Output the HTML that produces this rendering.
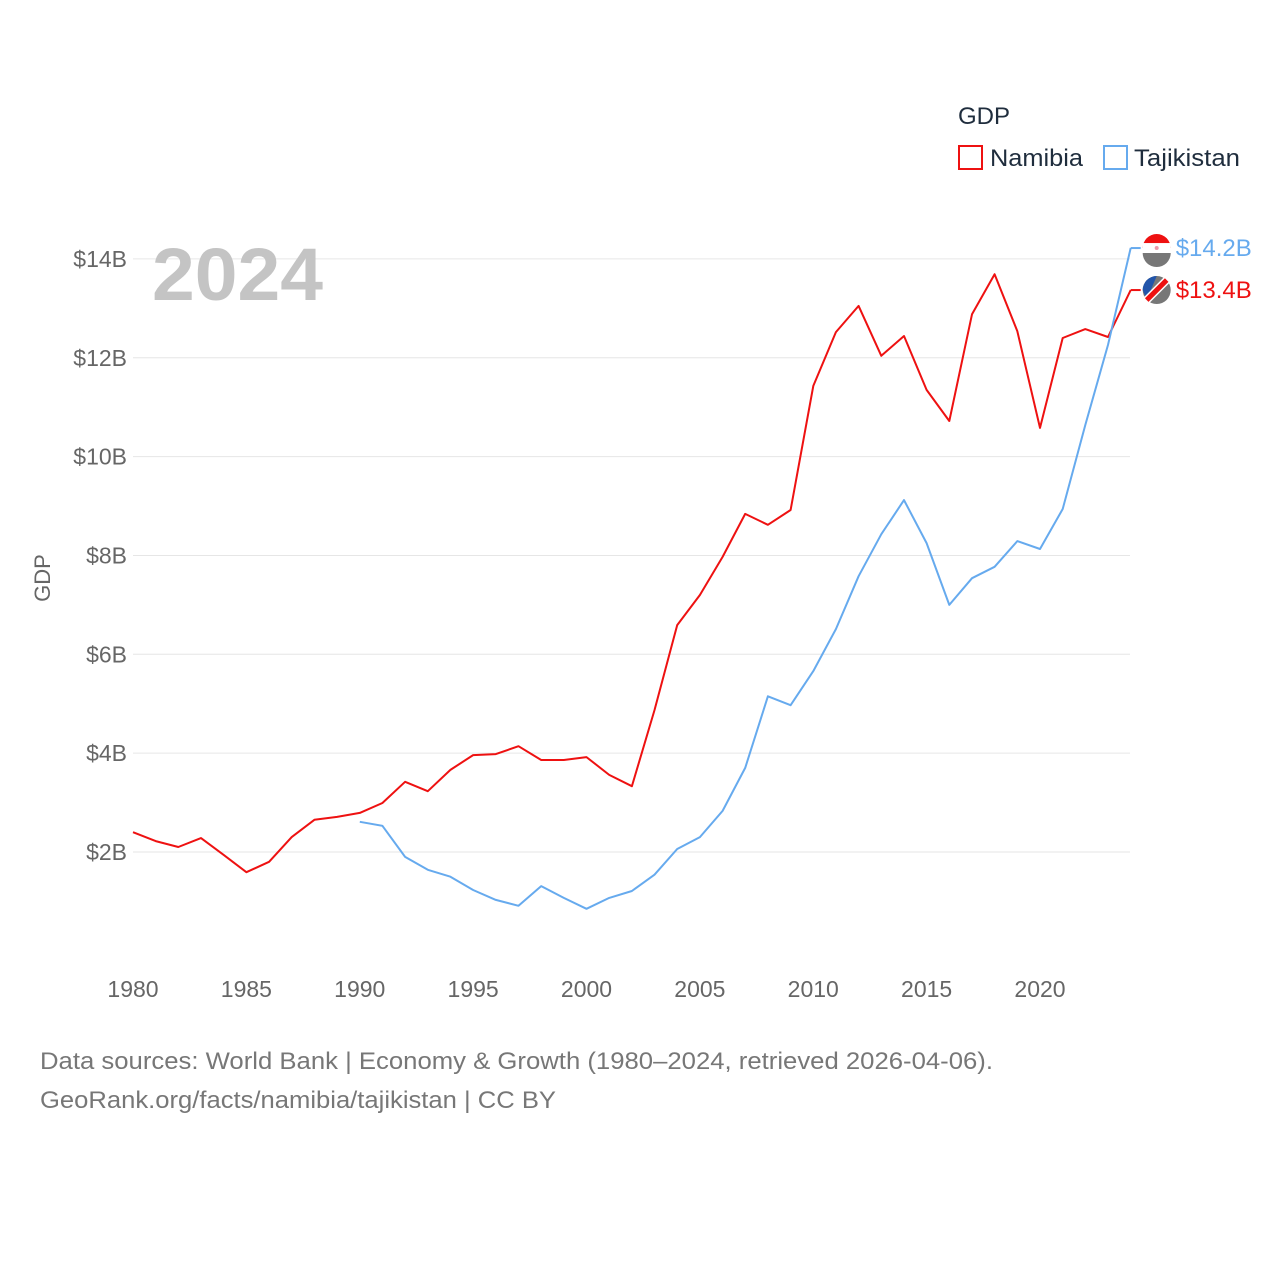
<!DOCTYPE html>
<html>
<head>
<meta charset="utf-8">
<style>
  html,body{margin:0;padding:0;background:#fff;}
  body{width:1280px;height:1280px;overflow:hidden;font-family:"Liberation Sans",sans-serif;}
  svg text{font-family:"Liberation Sans",sans-serif;}
</style>
</head>
<body>
<svg id="chart" width="1280" height="1280" viewBox="0 0 1280 1280" xmlns="http://www.w3.org/2000/svg">
  <g id="grid"></g>
  <g id="yticks"></g>
  <g id="xticks"></g>
  <text x="152" y="300" font-size="74" font-weight="bold" fill="#c4c4c4" textLength="171" lengthAdjust="spacingAndGlyphs">2024</text>
  <text transform="translate(50,578) rotate(-90)" text-anchor="middle" font-size="22" fill="#666">GDP</text>
  <g id="series"></g>
  <g>
    <text x="958" y="124" font-size="24" fill="#1f2d3d">GDP</text>
    <g>
      <rect x="959" y="146" width="23" height="23" fill="none" stroke="#ee1111" stroke-width="2"/>
      <text x="990" y="166" font-size="24" fill="#1f2d3d" textLength="93" lengthAdjust="spacingAndGlyphs">Namibia</text>
    </g>
    <g>
      <rect x="1104" y="146" width="23" height="23" fill="none" stroke="#66aaee" stroke-width="2"/>
      <text x="1134" y="166" font-size="24" fill="#1f2d3d" textLength="106" lengthAdjust="spacingAndGlyphs">Tajikistan</text>
    </g>
  </g>
  <g id="endlabels"></g>
  <text x="40" y="1069" font-size="24" fill="#777" textLength="953" lengthAdjust="spacingAndGlyphs">Data sources: World Bank | Economy &amp; Growth (1980–2024, retrieved 2026-04-06).</text>
  <text x="40" y="1108" font-size="24" fill="#777" textLength="516" lengthAdjust="spacingAndGlyphs">GeoRank.org/facts/namibia/tajikistan | CC BY</text>
</svg>
<script>
const years = [];
for (let y = 1980; y <= 2024; y++) years.push(y);
const namibia = [2.40,2.22,2.10,2.28,1.94,1.59,1.80,2.30,2.65,2.71,2.79,2.99,3.42,3.23,3.66,3.96,3.98,4.14,3.86,3.86,3.92,3.56,3.33,4.87,6.59,7.20,7.97,8.84,8.62,8.92,11.43,12.52,13.05,12.04,12.44,11.35,10.72,12.88,13.69,12.54,10.58,12.40,12.58,12.42,13.37];
const tajYears = [];
for (let y = 1990; y <= 2024; y++) tajYears.push(y);
const tajikistan = [2.61,2.53,1.90,1.64,1.50,1.23,1.03,0.91,1.31,1.07,0.85,1.07,1.21,1.54,2.06,2.30,2.83,3.70,5.15,4.97,5.66,6.51,7.58,8.43,9.12,8.25,7.00,7.54,7.77,8.29,8.13,8.94,10.64,12.26,14.22];
const yTicks = [2,4,6,8,10,12,14];
const xTicks = [1980,1985,1990,1995,2000,2005,2010,2015,2020];

const NS = "http://www.w3.org/2000/svg";
const xScale = yr => 133 + (yr - 1980) * 22.675;
const yScale = v => 950.8 - v * 49.42;
function mk(tag, attrs, parent){ const e=document.createElementNS(NS,tag); for(const k in attrs) e.setAttribute(k,attrs[k]); parent.appendChild(e); return e; }

const grid=document.getElementById('grid'), yt=document.getElementById('yticks'), xt=document.getElementById('xticks');
yTicks.forEach(v=>{
  const l=mk('line',{x1:133,x2:1130,y1:yScale(v),y2:yScale(v),stroke:'#e6e6e6','stroke-width':1},grid);
  
  
  const t=mk('text',{x:127,y:yScale(v)+8,'text-anchor':'end','font-size':23,fill:'#666'},yt);
  t.textContent='$'+v+'B';
  
  
});
xTicks.forEach(yr=>{
  const t=mk('text',{x:xScale(yr),y:997,'text-anchor':'middle','font-size':23,fill:'#666'},xt);
  t.textContent=yr;
  
  
});
const series=document.getElementById('series');
function line(xs, vals, color, name){
  const d=vals.map((v,i)=>(i?'L':'M')+xScale(xs[i]).toFixed(1)+','+yScale(v).toFixed(1)).join(' ');
  const p=mk('path',{d:d,fill:'none',stroke:color,'stroke-width':2,'stroke-linejoin':'round'},series);
  
  
}
line(years, namibia, '#ee1111', 'namibia-line');
line(tajYears, tajikistan, '#66aaee', 'tajikistan-line');

const el=document.getElementById('endlabels');
function endLabel(v, color, name, flag){
  const y=yScale(v), x=xScale(2024);
  mk('line',{x1:x,x2:x+10,y1:y,y2:y,stroke:color,'stroke-width':2},el);
  const g=mk('g',{},el);
  
  
  const cx=x+26;
  if(flag==='tj'){
    mk('circle',{cx:cx,cy:y,r:14,fill:'#fff'},g);
    mk('path',{d:`M${cx-14},${y} A14,14 0 0 1 ${cx+14},${y} Z`,fill:'#ee1111'},g);
    mk('rect',{x:cx-14,y:y-5,width:28,height:10,fill:'#fff'},g);
    mk('path',{d:`M${cx-14},${y+5} L${cx+14},${y+5} A14,14 0 0 1 ${cx-14},${y+5} Z`,fill:'#777'},g);
    mk('circle',{cx:cx,cy:y,r:2,fill:'#e9a'},g);
  } else {
    mk('circle',{cx:cx,cy:y,r:14,fill:'#777'},g);
    mk('path',{d:`M${cx-14},${y} A14,14 0 0 1 ${cx},${y-14} L${cx-10},${y+10} Z`,fill:'#2255aa'},g);
    mk('line',{x1:cx-10,y1:y+10,x2:cx+10,y2:y-10,stroke:'#fff','stroke-width':8},g);
    mk('line',{x1:cx-10,y1:y+10,x2:cx+10,y2:y-10,stroke:'#ee1111','stroke-width':5},g);
  }
  const t=mk('text',{x:x+45,y:y+8,'font-size':24,fill:color},el);
  t.textContent='$'+v.toFixed(1)+'B';
  
  
}
endLabel(tajikistan[tajikistan.length-1], '#66aaee', 'tajikistan', 'tj');
endLabel(namibia[namibia.length-1], '#ee1111', 'namibia', 'na');
</script>
</body>
</html>
